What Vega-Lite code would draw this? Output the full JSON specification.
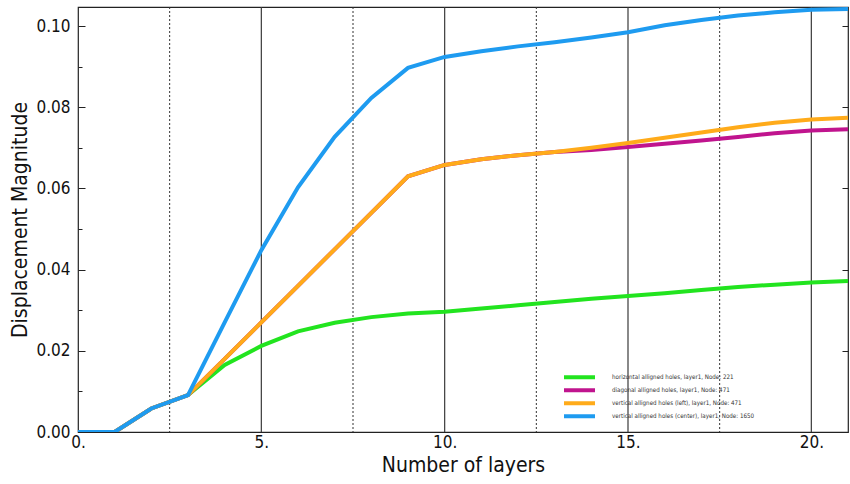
{
  "$schema": "https://vega.github.io/schema/vega-lite/v6.json",
  "width": 770,
  "height": 425,
  "autosize": {"type": "none"},
  "padding": {"left": 78, "top": 7, "right": 2, "bottom": 52},
  "background": "white",
  "config": {
    "view": {"stroke": "#222222", "strokeWidth": 1.2},
    "font": "Liberation Sans Narrow, DejaVu Sans Condensed, sans-serif"
  },
  "datasets": {
    "solidGrid": [{"layer": 5}, {"layer": 10}, {"layer": 15}, {"layer": 20}],
    "dottedGrid": [{"layer": 2.5}, {"layer": 7.5}, {"layer": 12.5}, {"layer": 17.5}],
    "curves": [
      {"layer": 0, "series": "horizontal alligned holes, layer1, Node: 221", "magnitude": 0},
      {"layer": 1, "series": "horizontal alligned holes, layer1, Node: 221", "magnitude": 0},
      {"layer": 2, "series": "horizontal alligned holes, layer1, Node: 221", "magnitude": 0.0058},
      {"layer": 3, "series": "horizontal alligned holes, layer1, Node: 221", "magnitude": 0.0091},
      {"layer": 4, "series": "horizontal alligned holes, layer1, Node: 221", "magnitude": 0.0165},
      {"layer": 5, "series": "horizontal alligned holes, layer1, Node: 221", "magnitude": 0.0212},
      {"layer": 6, "series": "horizontal alligned holes, layer1, Node: 221", "magnitude": 0.0248},
      {"layer": 7, "series": "horizontal alligned holes, layer1, Node: 221", "magnitude": 0.0269},
      {"layer": 8, "series": "horizontal alligned holes, layer1, Node: 221", "magnitude": 0.0283},
      {"layer": 9, "series": "horizontal alligned holes, layer1, Node: 221", "magnitude": 0.0292},
      {"layer": 10, "series": "horizontal alligned holes, layer1, Node: 221", "magnitude": 0.0296},
      {"layer": 11, "series": "horizontal alligned holes, layer1, Node: 221", "magnitude": 0.0304},
      {"layer": 12, "series": "horizontal alligned holes, layer1, Node: 221", "magnitude": 0.0312},
      {"layer": 13, "series": "horizontal alligned holes, layer1, Node: 221", "magnitude": 0.032},
      {"layer": 14, "series": "horizontal alligned holes, layer1, Node: 221", "magnitude": 0.0328},
      {"layer": 15, "series": "horizontal alligned holes, layer1, Node: 221", "magnitude": 0.0335},
      {"layer": 16, "series": "horizontal alligned holes, layer1, Node: 221", "magnitude": 0.0342},
      {"layer": 17, "series": "horizontal alligned holes, layer1, Node: 221", "magnitude": 0.035},
      {"layer": 18, "series": "horizontal alligned holes, layer1, Node: 221", "magnitude": 0.0357},
      {"layer": 19, "series": "horizontal alligned holes, layer1, Node: 221", "magnitude": 0.0363},
      {"layer": 20, "series": "horizontal alligned holes, layer1, Node: 221", "magnitude": 0.0368},
      {"layer": 21, "series": "horizontal alligned holes, layer1, Node: 221", "magnitude": 0.0372},

      {"layer": 0, "series": "diagonal alligned holes, layer1, Node: 471", "magnitude": 0},
      {"layer": 1, "series": "diagonal alligned holes, layer1, Node: 471", "magnitude": 0},
      {"layer": 2, "series": "diagonal alligned holes, layer1, Node: 471", "magnitude": 0.0058},
      {"layer": 3, "series": "diagonal alligned holes, layer1, Node: 471", "magnitude": 0.0091},
      {"layer": 4, "series": "diagonal alligned holes, layer1, Node: 471", "magnitude": 0.018},
      {"layer": 5, "series": "diagonal alligned holes, layer1, Node: 471", "magnitude": 0.027},
      {"layer": 6, "series": "diagonal alligned holes, layer1, Node: 471", "magnitude": 0.036},
      {"layer": 7, "series": "diagonal alligned holes, layer1, Node: 471", "magnitude": 0.045},
      {"layer": 8, "series": "diagonal alligned holes, layer1, Node: 471", "magnitude": 0.054},
      {"layer": 9, "series": "diagonal alligned holes, layer1, Node: 471", "magnitude": 0.063},
      {"layer": 10, "series": "diagonal alligned holes, layer1, Node: 471", "magnitude": 0.0658},
      {"layer": 11, "series": "diagonal alligned holes, layer1, Node: 471", "magnitude": 0.0672},
      {"layer": 12, "series": "diagonal alligned holes, layer1, Node: 471", "magnitude": 0.0682},
      {"layer": 13, "series": "diagonal alligned holes, layer1, Node: 471", "magnitude": 0.069},
      {"layer": 14, "series": "diagonal alligned holes, layer1, Node: 471", "magnitude": 0.0695},
      {"layer": 15, "series": "diagonal alligned holes, layer1, Node: 471", "magnitude": 0.0702},
      {"layer": 16, "series": "diagonal alligned holes, layer1, Node: 471", "magnitude": 0.071},
      {"layer": 17, "series": "diagonal alligned holes, layer1, Node: 471", "magnitude": 0.0718},
      {"layer": 18, "series": "diagonal alligned holes, layer1, Node: 471", "magnitude": 0.0727},
      {"layer": 19, "series": "diagonal alligned holes, layer1, Node: 471", "magnitude": 0.0736},
      {"layer": 20, "series": "diagonal alligned holes, layer1, Node: 471", "magnitude": 0.0743},
      {"layer": 21, "series": "diagonal alligned holes, layer1, Node: 471", "magnitude": 0.0746},

      {"layer": 0, "series": "vertical alligned holes (left), layer1, Node: 471", "magnitude": 0},
      {"layer": 1, "series": "vertical alligned holes (left), layer1, Node: 471", "magnitude": 0},
      {"layer": 2, "series": "vertical alligned holes (left), layer1, Node: 471", "magnitude": 0.0058},
      {"layer": 3, "series": "vertical alligned holes (left), layer1, Node: 471", "magnitude": 0.0091},
      {"layer": 4, "series": "vertical alligned holes (left), layer1, Node: 471", "magnitude": 0.018},
      {"layer": 5, "series": "vertical alligned holes (left), layer1, Node: 471", "magnitude": 0.027},
      {"layer": 6, "series": "vertical alligned holes (left), layer1, Node: 471", "magnitude": 0.036},
      {"layer": 7, "series": "vertical alligned holes (left), layer1, Node: 471", "magnitude": 0.045},
      {"layer": 8, "series": "vertical alligned holes (left), layer1, Node: 471", "magnitude": 0.054},
      {"layer": 9, "series": "vertical alligned holes (left), layer1, Node: 471", "magnitude": 0.063},
      {"layer": 10, "series": "vertical alligned holes (left), layer1, Node: 471", "magnitude": 0.0658},
      {"layer": 11, "series": "vertical alligned holes (left), layer1, Node: 471", "magnitude": 0.0672},
      {"layer": 12, "series": "vertical alligned holes (left), layer1, Node: 471", "magnitude": 0.0682},
      {"layer": 13, "series": "vertical alligned holes (left), layer1, Node: 471", "magnitude": 0.069},
      {"layer": 14, "series": "vertical alligned holes (left), layer1, Node: 471", "magnitude": 0.07},
      {"layer": 15, "series": "vertical alligned holes (left), layer1, Node: 471", "magnitude": 0.0712},
      {"layer": 16, "series": "vertical alligned holes (left), layer1, Node: 471", "magnitude": 0.0725},
      {"layer": 17, "series": "vertical alligned holes (left), layer1, Node: 471", "magnitude": 0.0738},
      {"layer": 18, "series": "vertical alligned holes (left), layer1, Node: 471", "magnitude": 0.0751},
      {"layer": 19, "series": "vertical alligned holes (left), layer1, Node: 471", "magnitude": 0.0762},
      {"layer": 20, "series": "vertical alligned holes (left), layer1, Node: 471", "magnitude": 0.077},
      {"layer": 21, "series": "vertical alligned holes (left), layer1, Node: 471", "magnitude": 0.0774},

      {"layer": 0, "series": "vertical alligned holes (center), layer1, Node: 1650", "magnitude": 0},
      {"layer": 1, "series": "vertical alligned holes (center), layer1, Node: 1650", "magnitude": 0},
      {"layer": 2, "series": "vertical alligned holes (center), layer1, Node: 1650", "magnitude": 0.0058},
      {"layer": 3, "series": "vertical alligned holes (center), layer1, Node: 1650", "magnitude": 0.0091},
      {"layer": 4, "series": "vertical alligned holes (center), layer1, Node: 1650", "magnitude": 0.027},
      {"layer": 5, "series": "vertical alligned holes (center), layer1, Node: 1650", "magnitude": 0.0448},
      {"layer": 6, "series": "vertical alligned holes (center), layer1, Node: 1650", "magnitude": 0.0603},
      {"layer": 7, "series": "vertical alligned holes (center), layer1, Node: 1650", "magnitude": 0.0727},
      {"layer": 8, "series": "vertical alligned holes (center), layer1, Node: 1650", "magnitude": 0.0823},
      {"layer": 9, "series": "vertical alligned holes (center), layer1, Node: 1650", "magnitude": 0.0897},
      {"layer": 10, "series": "vertical alligned holes (center), layer1, Node: 1650", "magnitude": 0.0924},
      {"layer": 11, "series": "vertical alligned holes (center), layer1, Node: 1650", "magnitude": 0.0938},
      {"layer": 12, "series": "vertical alligned holes (center), layer1, Node: 1650", "magnitude": 0.095},
      {"layer": 13, "series": "vertical alligned holes (center), layer1, Node: 1650", "magnitude": 0.096},
      {"layer": 14, "series": "vertical alligned holes (center), layer1, Node: 1650", "magnitude": 0.0972},
      {"layer": 15, "series": "vertical alligned holes (center), layer1, Node: 1650", "magnitude": 0.0985},
      {"layer": 16, "series": "vertical alligned holes (center), layer1, Node: 1650", "magnitude": 0.1002},
      {"layer": 17, "series": "vertical alligned holes (center), layer1, Node: 1650", "magnitude": 0.1015},
      {"layer": 18, "series": "vertical alligned holes (center), layer1, Node: 1650", "magnitude": 0.1026},
      {"layer": 19, "series": "vertical alligned holes (center), layer1, Node: 1650", "magnitude": 0.1034},
      {"layer": 20, "series": "vertical alligned holes (center), layer1, Node: 1650", "magnitude": 0.104},
      {"layer": 21, "series": "vertical alligned holes (center), layer1, Node: 1650", "magnitude": 0.1042}
    ]
  },
  "layer": [
    {
      "data": {"name": "solidGrid"},
      "mark": {"type": "rule", "color": "#3a3a3a", "strokeWidth": 1.2},
      "encoding": {
        "x": {
          "field": "layer",
          "type": "quantitative",
          "scale": {"domain": [0, 21], "nice": false, "zero": false},
          "axis": {
            "values": [0, 5, 10, 15, 20],
            "labelExpr": "datum.value + '.'",
            "ticks": false,
            "domain": false,
            "grid": false,
            "labelFontSize": 17,
            "labelColor": "#111111",
            "labelPadding": 2,
            "labelFlush": false,
            "title": "Number of layers",
            "titleFontSize": 21,
            "titleFontWeight": "normal",
            "titleColor": "#111111",
            "titlePadding": 4
          }
        }
      }
    },
    {
      "data": {"name": "dottedGrid"},
      "mark": {"type": "rule", "color": "#333333", "strokeWidth": 1, "strokeDash": [2, 2]},
      "encoding": {
        "x": {"field": "layer", "type": "quantitative"}
      }
    },
    {
      "data": {"name": "curves"},
      "mark": {"type": "line", "strokeWidth": 4, "clip": true},
      "encoding": {
        "x": {"field": "layer", "type": "quantitative"},
        "y": {
          "field": "magnitude",
          "type": "quantitative",
          "scale": {"domain": [0, 0.1047], "nice": false, "zero": false},
          "axis": {
            "orient": "left",
            "values": [0, 0.01, 0.02, 0.03, 0.04, 0.05, 0.06, 0.07, 0.08, 0.09, 0.1],
            "labelExpr": "round(datum.value * 100) % 2 == 0 ? format(datum.value, '.2f') : ''",
            "tickSize": {"condition": {"test": "round(datum.value * 100) % 2 == 0", "value": -7}, "value": -4},
            "tickColor": "#222222",
            "tickWidth": 1,
            "domain": false,
            "grid": false,
            "labelFontSize": 17,
            "labelColor": "#111111",
            "labelPadding": 15,
            "labelFlush": false,
            "title": "Displacement Magnitude",
            "titleFontSize": 21,
            "titleFontWeight": "normal",
            "titleColor": "#111111",
            "titlePadding": 5
          }
        },
        "color": {
          "field": "series",
          "type": "nominal",
          "scale": {
            "domain": [
              "horizontal alligned holes, layer1, Node: 221",
              "diagonal alligned holes, layer1, Node: 471",
              "vertical alligned holes (left), layer1, Node: 471",
              "vertical alligned holes (center), layer1, Node: 1650"
            ],
            "range": ["#22e41f", "#c0148e", "#ffab1a", "#1e9bf0"]
          },
          "legend": {
            "orient": "none",
            "legendX": 484,
            "legendY": 364,
            "title": null,
            "padding": 0,
            "symbolType": "M-1,0H6.75",
            "symbolSize": 64,
            "symbolStrokeWidth": 4,
            "clipHeight": 12.5,
            "rowPadding": 0,
            "labelOffset": 38,
            "labelFontSize": 6.2,
            "labelColor": "#333333",
            "labelLimit": 300
          }
        }
      }
    },
    {
      "data": {"name": "curves"},
      "mark": {"type": "point", "opacity": 0},
      "encoding": {
        "x": {"field": "layer", "type": "quantitative"},
        "y": {
          "field": "magnitude",
          "type": "quantitative",
          "axis": {
            "orient": "right",
            "values": [0.02, 0.04, 0.06, 0.08, 0.1],
            "labels": false,
            "tickSize": -6,
            "tickColor": "#222222",
            "domain": false,
            "grid": false,
            "title": null
          }
        }
      }
    }
  ]
}
